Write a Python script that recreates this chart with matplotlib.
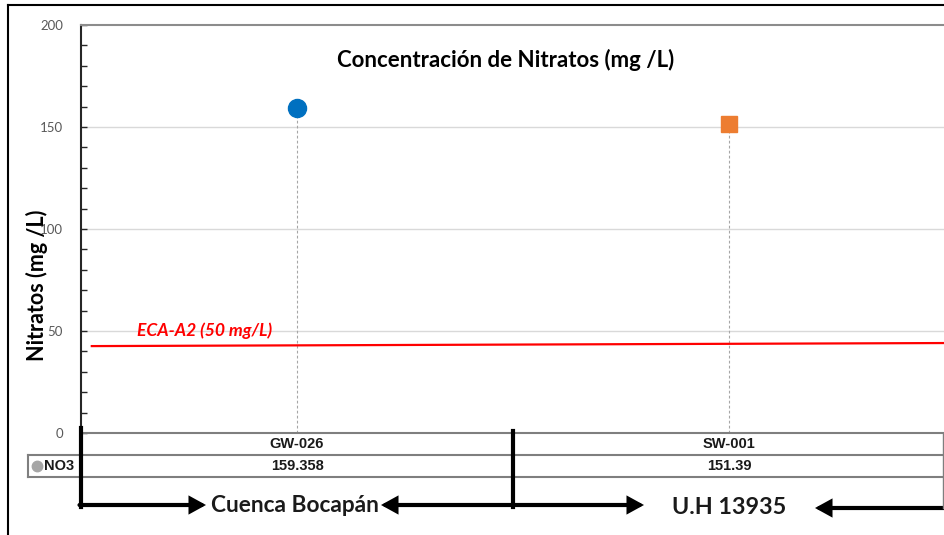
import matplotlib
matplotlib.use("Agg")
import matplotlib.pyplot as plt
from matplotlib.lines import Line2D
from matplotlib.patches import FancyArrowPatch
import numpy as np

# ---- data ----
categories = ["GW-026", "SW-001"]
no3_values = [159.358, 151.39]
value_labels = ["159.358", "151.39"]
marker_colors = ["#0070C0", "#ED7D31"]
marker_shapes = ["o", "s"]
eca_x = [-0.475, 1.5]
eca_y = [42.6, 44.1]
eca_label = "ECA-A2 (50 mg/L)"
group_labels = ["Cuenca Bocapán", "U.H 13935"]
y_ticks = [0, 50, 100, 150, 200]

W, H = 944, 535
fig = plt.figure(figsize=(W / 100, H / 100), dpi=100)
fig.patch.set_facecolor("white")


def fx(x):
    return x / W


def fy(y):
    return 1 - y / H


ax_left, ax_right, ax_top, ax_bot = 81, 945, 25, 433
ax = fig.add_axes([fx(ax_left), fy(ax_bot), (ax_right - ax_left) / W, (ax_bot - ax_top) / H])
ax.set_xlim(-0.5, 1.5)
ax.set_ylim(0, 200)

# grid
for t in y_ticks[1:-1]:
    ax.axhline(t, color="#d9d9d9", lw=1.0, zorder=0)

# drop lines + markers
xs = np.arange(len(categories))
for i, (v, c, m) in enumerate(zip(no3_values, marker_colors, marker_shapes)):
    ax.vlines(xs[i], 0, v, colors="#a6a6a6", linestyles=(0, (2.5, 2)), lw=0.8, zorder=1)
    ax.plot(xs[i], v, marker=m, color=c, markersize=13 if m == "o" else 11.5,
            markeredgecolor=c, zorder=3, clip_on=False)

# ECA line
ax.plot(eca_x, eca_y, color="#FF0000", lw=1.6, zorder=2, clip_on=False)
fig.text(fx(137), fy(331), eca_label, color="#FF0000", fontsize=12.6, fontweight="bold",
         fontstyle="italic", family="Lato", ha="left", va="center")

# axes styling
for s in ["right", "bottom"]:
    ax.spines[s].set_visible(False)
ax.spines["top"].set_color("#8c8c8c")
ax.spines["top"].set_linewidth(1.5)
ax.spines["left"].set_color("#262626")
ax.spines["left"].set_linewidth(1.5)
ax.set_yticks(y_ticks)
ax.set_yticks(np.arange(0, 201, 10), minor=True)
ax.tick_params(axis="y", which="major", direction="in", length=4, width=1, color="#262626",
               labelsize=9.5, labelcolor="#595959", pad=13)
ax.tick_params(axis="y", which="minor", direction="in", length=4, width=1, color="#262626")
for lab in ax.get_yticklabels():
    lab.set_family("Lato")
ax.set_xticks([])

fig.text(fx(506), fy(60), "Concentración de Nitratos (mg /L)", fontsize=16, fontweight="bold",
         family="Lato", ha="center", va="center")
fig.text(fx(37), fy(285), "Nitratos (mg /L)", rotation=90, fontsize=15.5, fontweight="bold",
         family="Lato", ha="center", va="center")

# ---- data table below axes ----
gray = "#7f7f7f"
row1_top, row1_bot, row2_bot = 433, 455, 477
left_label = 28


def hline(x0, x1, y, color=gray, lw=1.5):
    fig.add_artist(Line2D([fx(x0), fx(x1)], [fy(y), fy(y)], color=color, lw=lw))


def vline(x, y0, y1, color=gray, lw=1.5):
    fig.add_artist(Line2D([fx(x), fx(x)], [fy(y0), fy(y1)], color=color, lw=lw))


hline(81, 943, row1_top)
hline(left_label, 943, row1_bot)
hline(left_label, 943, row2_bot)
vline(left_label, row1_bot, row2_bot)
vline(943, row1_top, 508, lw=1.0)

for i, cat in enumerate(categories):
    xc = ax.transData.transform((xs[i], 0))[0]
    fig.text(xc / W, fy((row1_top + row1_bot) / 2), cat, fontsize=10.5, fontweight="bold",
             family="Liberation Sans", ha="center", va="center", color="#1a1a1a")
    fig.text(xc / W, fy((row1_bot + row2_bot) / 2), value_labels[i], fontsize=10.5,
             fontweight="bold", family="Liberation Sans", ha="center", va="center",
             color="#1a1a1a")

fig.add_artist(Line2D([fx(37)], [fy(466)], marker="o", markersize=7.5, color="#a6a6a6",
                      markeredgecolor="#a6a6a6", linestyle="none"))
fig.text(fx(44), fy(466), "NO3", fontsize=10.5, fontweight="bold", family="Liberation Sans",
         ha="left", va="center", color="#1a1a1a")

# ---- thick black group brackets/arrows ----
lw_b = 3.0
vline(81, 428, 506.5, color="black", lw=lw_b)
vline(513, 431, 506.5, color="black", lw=lw_b)


def arrow(x0, y0, x1, y1):
    fig.add_artist(FancyArrowPatch(
        (fx(x0), fy(y0)), (fx(x1), fy(y1)), transform=fig.transFigure,
        arrowstyle="-|>,head_length=1.0,head_width=0.55", mutation_scale=8,
        lw=lw_b, color="black", shrinkA=0, shrinkB=0, joinstyle="miter"))


arrow(79.5, 505, 206, 505)
arrow(513, 505, 381, 505)
arrow(511.5, 505, 644, 505)
arrow(944, 508, 815, 508)

fig.text(fx(295), fy(505), group_labels[0], fontsize=16.3, fontweight="bold", family="Lato",
         ha="center", va="center", color="#1a1a1a")
fig.text(fx(729), fy(507), group_labels[1], fontsize=16.8, fontweight="bold", family="Lato",
         ha="center", va="center", color="#1a1a1a")

# outer frame
hline(8, 944, 5, color="black", lw=1.5)
vline(8, 5, 535, color="black", lw=1.5)

fig.savefig("out.png", dpi=100)
